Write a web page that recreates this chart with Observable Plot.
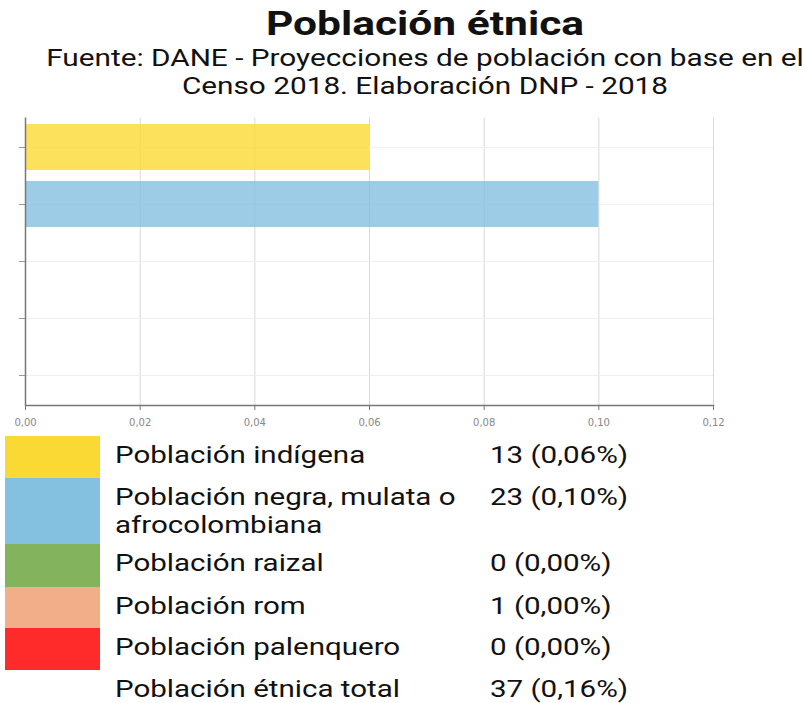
<!DOCTYPE html>
<html><head><meta charset="utf-8">
<script src="https://cdn.jsdelivr.net/npm/d3@7"></script>
<script src="https://cdn.jsdelivr.net/npm/@observablehq/plot@0.6"></script>
<style>
html,body{margin:0;padding:0;background:#fff;}
body{width:805px;height:703px;position:relative;overflow:hidden;font-family:Roboto,sans-serif;color:#111;}
#title{position:absolute;left:0;width:850px;top:3px;text-align:center;font-weight:bold;font-size:34px;line-height:40px;white-space:nowrap;transform:scaleX(1.25);transform-origin:425px 0;}
#subtitle{position:absolute;left:0;width:850px;top:44px;text-align:center;font-size:24px;line-height:28px;white-space:nowrap;transform:scaleX(1.24);transform-origin:425px 0;}
#chart{position:absolute;left:0;top:108px;}
#legend{position:absolute;left:5px;top:436px;}
.row{display:flex;position:relative;}
.sw{width:95px;flex:none;}
.lab{position:absolute;left:110px;font-size:24px;line-height:28px;white-space:nowrap;transform:scaleX(1.23);transform-origin:0 0;}
.val{position:absolute;left:485px;font-size:24px;line-height:28px;white-space:nowrap;transform:scaleX(1.23);transform-origin:0 0;}
</style></head><body>
<div id="title">Población étnica</div>
<div id="subtitle">Fuente: DANE - Proyecciones de población con base en el<br>Censo 2018. Elaboración DNP - 2018</div>
<div id="chart"></div>
<div id="legend"></div>
<script>
const categories = ["Población indígena","Población negra, mulata o afrocolombiana","Población raizal","Población rom","Población palenquero"];
const counts = [13, 23, 0, 1, 0];
const percents = [0.06, 0.10, 0.00, 0.00, 0.00];
const colors = ["#FBD935","#84C1E0","#84B35E","#F2AE88","#FF2B2B"];
const totalLabel = "Población étnica total";
const totalCount = 37;
const totalPercent = 0.16;
const xTicks = [0, 0.02, 0.04, 0.06, 0.08, 0.10, 0.12];

const fmt = v => v.toFixed(2).replace(".", ",");
const data = categories.map((c, i) => ({cat: c, pct: percents[i], color: colors[i]}));

const plot = Plot.plot({
  width: 805, height: 330,
  marginLeft: 25, marginRight: 92, marginTop: 9.5, marginBottom: 33,
  style: {fontFamily: "'DejaVu Sans', sans-serif", fontSize: "10px", color: "#666", background: "transparent"},
  x: {domain: [0, 0.12], label: null},
  y: {domain: categories, paddingInner: 0.2, paddingOuter: 0.1, label: null},
  marks: [
    Plot.gridX(xTicks, {stroke: "#d8d8d8", strokeOpacity: 1}),
    Plot.gridY(categories, {stroke: "#efefef", strokeOpacity: 1}),
    Plot.barX(data, {x: "pct", y: "cat", fill: "color", fillOpacity: 0.8}),
    Plot.axisX(xTicks, {tickSize: 5, tickPadding: 8, tickFormat: fmt, stroke: "#777", fill: "#888", fontSize: 10, label: null}),
    Plot.axisY({tickSize: 6, tickFormat: () => "", stroke: "#999", label: null}),
    Plot.ruleX([0], {stroke: "#777", strokeWidth: 1.5}),
    Plot.frame({anchor: "bottom", stroke: "#777", strokeWidth: 1.5})
  ]
});
document.getElementById("chart").appendChild(plot);

const rows = categories.map((c, i) => ({label: c, value: `${counts[i]} (${fmt(percents[i])}%)`, color: colors[i]}));
rows.push({label: totalLabel, value: `${totalCount} (${fmt(totalPercent)}%)`, color: "transparent"});
const heights = [42, 66, 43, 41, 42, 33];
const legend = d3.select("#legend");
rows.forEach((r, i) => {
  const row = legend.append("div").attr("class", "row").style("height", heights[i] + "px");
  row.append("div").attr("class", "sw").style("background", r.color);
  const lab = row.append("div").attr("class", "lab").style("top", "5px");
  r.label === categories[1]
    ? lab.html("Población negra, mulata o<br>afrocolombiana")
    : lab.text(r.label);
  row.append("div").attr("class", "val").style("top", "5px").text(r.value);
});
</script>
</body></html>
